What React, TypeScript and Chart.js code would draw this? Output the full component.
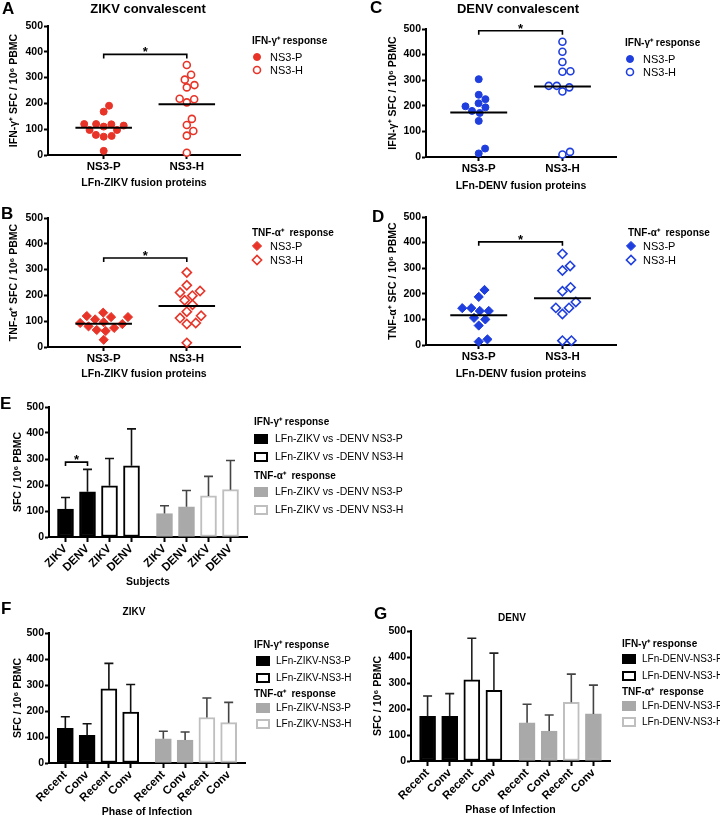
import React, { useEffect, useRef } from 'react';
import { Chart, registerables } from 'chart.js';

Chart.register(...registerables);

const FONT = '"Liberation Sans", Arial, Helvetica, sans-serif';
const RED = 'rgb(232, 52, 40)';
const BLUE = 'rgb(30, 62, 222)';
const BLACK = '#000000';
const WHITE = '#ffffff';
const GREY = '#a9a9a9';
const LIGHT = '#bfbfbf';

// ---------- tick labels and categories ----------
const sfcTicks = [0, 100, 200, 300, 400, 500];
const fusionCategories = ['NS3-P', 'NS3-H'];
const subjectCategories = ['ZIKV', 'DENV'];
const phaseCategories = ['Recent', 'Conv'];

// ---------- A: ZIKV convalescent, IFN-γ ----------
const zikvIfnP = [191, 168, 119, 120, 97, 110, 114, 120, 97, 74, 71, 78, 16];
const zikvIfnH = [292, 311, 349, 262, 271, 216, 204, 218, 140, 116, 93, 75, 9];
const zikvIfnMeans = [106, 197];
const zikvIfnSigAt = 390;

// ---------- B: ZIKV convalescent, TNF-α ----------
const zikvTnfP = [93, 133, 89, 116, 74, 107, 28, 66, 62, 116, 80, 120, 96];
const zikvTnfH = [289, 239, 217, 199, 211, 181, 164, 121, 137, 112, 93, 89, 16];
const zikvTnfMeans = [90, 159];
const zikvTnfSigAt = 345;

// ---------- C: DENV convalescent, IFN-γ ----------
const denvIfnP = [194, 226, 243, 304, 210, 198, 180, 172, 141, 33, 14];
const denvIfnH = [450, 411, 371, 333, 335, 278, 272, 256, 278, 10, 20];
const denvIfnMeans = [174, 275];
const denvIfnSigAt = 493;

// ---------- D: DENV convalescent, TNF-α ----------
const denvTnfP = [215, 188, 144, 133, 133, 144, 100, 106, 76, 22, 13];
const denvTnfH = [356, 291, 309, 225, 210, 168, 145, 145, 121, 17, 17];
const denvTnfMeans = [116, 183];
const denvTnfSigAt = 403;

// ---------- E: subjects (ZIKV, DENV) ----------
const subjIfnP = [107, 174];
const subjIfnPSd = [45, 86];
const subjIfnH = [197, 274];
const subjIfnHSd = [105, 142];
const subjTnfP = [90, 116];
const subjTnfPSd = [30, 63];
const subjTnfH = [158, 182];
const subjTnfHSd = [75, 112];
const subjSigAt = 288;

// ---------- F: ZIKV by phase (Recent, Conv) ----------
const zikvPhaseIfnP = [133, 106];
const zikvPhaseIfnPSd = [45, 45];
const zikvPhaseIfnH = [285, 196];
const zikvPhaseIfnHSd = [98, 106];
const zikvPhaseTnfP = [93, 88];
const zikvPhaseTnfPSd = [29, 31];
const zikvPhaseTnfH = [175, 155];
const zikvPhaseTnfHSd = [75, 78];

// ---------- G: DENV by phase (Recent, Conv) ----------
const denvPhaseIfnP = [172, 172];
const denvPhaseIfnPSd = [78, 87];
const denvPhaseIfnH = [312, 272];
const denvPhaseIfnHSd = [160, 143];
const denvPhaseTnfP = [147, 115];
const denvPhaseTnfPSd = [71, 62];
const denvPhaseTnfH = [226, 181];
const denvPhaseTnfHSd = [108, 111];

// ================= helpers =================
type Box = { left: number; top: number; width: number; height: number };
type Area = { left: number; top: number; right: number; bottom: number };
type TextAt = { text: string; x: number; y: number };
type LegendEntry = { header?: string; ds?: number; y: number };
type LegendSpec = { headerX: number; markerX: number; textX: number; itemFont: number; entries: LegendEntry[] };

const AX_FONT = 10.5;
const TICK_FONT_Y = 10.5;
const TICK_FONT_X = 11.5;

function swarm(values: number[], pxPerY: number, pxPerX: number, d: number): number[] {
  const order = values.map((_, i) => i).sort((a, b) => values[a] - values[b]);
  const placed: { x: number; y: number }[] = [];
  const out = new Array(values.length).fill(0);
  for (const i of order) {
    const y = values[i] * pxPerY;
    const cands = [0];
    for (const p of placed) {
      const dy = Math.abs(p.y - y);
      if (dy < d) {
        const dx = Math.sqrt(d * d - dy * dy);
        cands.push(p.x + dx, p.x - dx);
      }
    }
    cands.sort((a, b) => Math.abs(a) - Math.abs(b));
    let best = 0;
    for (const c of cands) {
      if (placed.every((p) => (p.x - c) ** 2 + (p.y - y) ** 2 >= d * d - 0.01)) {
        best = c;
        break;
      }
    }
    placed.push({ x: best, y });
    out[i] = best / pxPerX;
  }
  return out;
}

function drawMarker(ctx: CanvasRenderingContext2D, style: string, x: number, y: number, r: number, fill: string, stroke: string, lw: number) {
  ctx.beginPath();
  if (style === 'rectRot') {
    ctx.moveTo(x - r, y);
    ctx.lineTo(x, y - r);
    ctx.lineTo(x + r, y);
    ctx.lineTo(x, y + r);
    ctx.closePath();
  } else {
    ctx.arc(x, y, r, 0, Math.PI * 2);
  }
  ctx.fillStyle = fill;
  ctx.fill();
  ctx.lineWidth = lw;
  ctx.strokeStyle = stroke;
  ctx.stroke();
}

type DecorSpec = {
  box: Box;
  letter: TextAt;
  title?: TextAt & { size: number };
  legend: LegendSpec;
  kind: 'point' | 'bar';
  means?: number[];
  meanHalf?: number;
  bracket?: { x1: number; x2: number; value: number };
  errors?: { sd: (number | null)[]; color: string }[];
  swatches?: { fill: string; border: string }[];
};

function makeDecor(spec: DecorSpec) {
  const ox = spec.box.left;
  const oy = spec.box.top;
  return {
    id: 'decor',
    afterDatasetsDraw(chart: any) {
      const ctx: CanvasRenderingContext2D = chart.ctx;
      const xs = chart.scales.x;
      const ys = chart.scales.y;
      ctx.save();
      if (spec.errors) {
        spec.errors.forEach((e, di) => {
          const meta = chart.getDatasetMeta(di);
          const data = chart.data.datasets[di].data;
          meta.data.forEach((el: any, i: number) => {
            const v = data[i];
            const sd = e.sd[i];
            if (v == null || sd == null) return;
            const top = ys.getPixelForValue(v);
            const cap = ys.getPixelForValue(v + sd);
            ctx.strokeStyle = e.color;
            ctx.lineWidth = 1.6;
            ctx.beginPath();
            ctx.moveTo(el.x, top);
            ctx.lineTo(el.x, cap);
            ctx.moveTo(el.x - 4.5, cap);
            ctx.lineTo(el.x + 4.5, cap);
            ctx.stroke();
          });
        });
      }
      if (spec.means) {
        const half = spec.meanHalf || 0.34;
        spec.means.forEach((m, i) => {
          const y = ys.getPixelForValue(m);
          ctx.strokeStyle = '#000';
          ctx.lineWidth = 2;
          ctx.beginPath();
          ctx.moveTo(xs.getPixelForValue(i + 1 - half), y);
          ctx.lineTo(xs.getPixelForValue(i + 1 + half), y);
          ctx.stroke();
        });
      }
      if (spec.bracket) {
        const b = spec.bracket;
        const x1 = xs.getPixelForValue(b.x1);
        const x2 = xs.getPixelForValue(b.x2);
        const y = ys.getPixelForValue(b.value);
        ctx.strokeStyle = '#000';
        ctx.lineWidth = 1.6;
        ctx.beginPath();
        ctx.moveTo(x1, y + 4);
        ctx.lineTo(x1, y);
        ctx.lineTo(x2, y);
        ctx.lineTo(x2, y + 4);
        ctx.stroke();
        ctx.fillStyle = '#000';
        ctx.font = `bold 13px ${FONT}`;
        ctx.textAlign = 'center';
        ctx.textBaseline = 'alphabetic';
        ctx.fillText('*', (x1 + x2) / 2, y + 2);
      }
      ctx.restore();
    },
    afterDraw(chart: any) {
      const ctx: CanvasRenderingContext2D = chart.ctx;
      ctx.save();
      ctx.fillStyle = '#000';
      ctx.textBaseline = 'middle';
      ctx.textAlign = 'left';
      ctx.font = `bold 17px ${FONT}`;
      ctx.fillText(spec.letter.text, spec.letter.x - ox, spec.letter.y - oy);
      if (spec.title) {
        ctx.font = `bold ${spec.title.size}px ${FONT}`;
        ctx.textAlign = 'center';
        ctx.fillText(spec.title.text, spec.title.x - ox, spec.title.y - oy);
      }
      const lg = spec.legend;
      lg.entries.forEach((e) => {
        const y = e.y - oy;
        if (e.header) {
          ctx.font = `bold 10px ${FONT}`;
          ctx.textAlign = 'left';
          ctx.fillStyle = '#000';
          ctx.fillText(e.header, lg.headerX - ox, y);
          return;
        }
        const ds = chart.data.datasets[e.ds as number];
        if (spec.kind === 'point') {
          drawMarker(ctx, ds.pointStyle, lg.markerX - ox, y, ds.pointRadius, ds.backgroundColor, ds.borderColor, ds.borderWidth);
        } else {
          const sw = (spec.swatches as any)[e.ds as number];
          const mx = lg.markerX - ox;
          ctx.fillStyle = sw.fill;
          ctx.fillRect(mx, y - 5, 14, 10);
          ctx.strokeStyle = sw.border;
          ctx.lineWidth = 2;
          ctx.strokeRect(mx + 1, y - 4, 12, 8);
        }
        ctx.font = `${lg.itemFont}px ${FONT}`;
        ctx.fillStyle = '#000';
        ctx.textAlign = 'left';
        ctx.fillText(ds.label, lg.textX - ox, y + 0.5);
      });
      ctx.restore();
    },
  };
}

function yScale(title: string, yW: number, titleX: number) {
  return {
    type: 'linear',
    min: sfcTicks[0],
    max: sfcTicks[sfcTicks.length - 1],
    afterBuildTicks: (s: any) => {
      s.ticks = sfcTicks.map((v) => ({ value: v }));
    },
    afterFit: (s: any) => {
      s.width = yW;
    },
    ticks: { font: { family: FONT, size: TICK_FONT_Y, weight: 'bold' }, color: '#000', padding: 1 },
    grid: { drawOnChartArea: false, drawTicks: true, tickLength: 4, tickWidth: 2, tickColor: '#000', color: '#000' },
    border: { display: true, color: '#000', width: 2 },
    title: {
      display: true,
      text: title,
      color: '#000',
      font: { family: FONT, size: AX_FONT, weight: 'bold' },
      padding: { top: titleX - AX_FONT * 0.6, bottom: 0 },
    },
  };
}

function xTitle(text: string, canvasH: number, titleY: number) {
  return {
    display: true,
    text,
    color: '#000',
    font: { family: FONT, size: AX_FONT, weight: 'bold' },
    padding: { top: 0, bottom: Math.max(0, canvasH - AX_FONT * 0.6 - titleY) },
  };
}

function baseOptions(box: Box, area: Area) {
  return {
    responsive: false,
    animation: false,
    devicePixelRatio: 1,
    events: [],
    layout: {
      autoPadding: false,
      padding: { left: 0, top: area.top - box.top, right: box.left + box.width - area.right, bottom: 0 },
    },
    plugins: { legend: { display: false }, tooltip: { enabled: false }, title: { display: false } },
  };
}

// ================= scatter (A-D) =================
type ScatterSpec = {
  box: Box;
  area: Area;
  xMin: number;
  xMax: number;
  p: number[];
  h: number[];
  means: number[];
  sigAt: number;
  color: string;
  shape: 'circle' | 'rectRot';
  yTitle: string;
  yTitleX: number;
  xTitle: string;
  xTitleY: number;
  letter: TextAt;
  title?: TextAt & { size: number };
  legendHeader: string;
  legend: { headerX: number; markerX: number; textX: number; headerY: number; itemY: number[] };
};

function scatterConfig(s: ScatterSpec) {
  const plotW = s.area.right - s.area.left;
  const plotH = s.area.bottom - s.area.top;
  const pxX = plotW / (s.xMax - s.xMin);
  const pxY = plotH / (sfcTicks[sfcTicks.length - 1] - sfcTicks[0]);
  const r = s.shape === 'circle' ? 3.5 : 4.6;
  const makeSet = (vals: number[], idx: number, filled: boolean) => {
    const offs = swarm(vals, pxY, pxX, s.shape === 'circle' ? 8 : 9);
    return {
      label: fusionCategories[idx],
      data: vals.map((v, i) => ({ x: idx + 1 + offs[i], y: v })),
      pointStyle: s.shape,
      pointRadius: r,
      pointHoverRadius: r,
      backgroundColor: filled ? s.color : WHITE,
      borderColor: s.color,
      borderWidth: filled ? 1 : 1.6,
      clip: false,
    };
  };
  const xH = s.box.top + s.box.height - s.area.bottom;
  const opts: any = baseOptions(s.box, s.area);
  opts.scales = {
    x: {
      type: 'linear',
      min: s.xMin,
      max: s.xMax,
      afterBuildTicks: (sc: any) => {
        sc.ticks = fusionCategories.map((_, i) => ({ value: i + 1 }));
      },
      afterFit: (sc: any) => {
        sc.height = xH;
      },
      ticks: {
        callback: (_v: any, i: number) => fusionCategories[i],
        font: { family: FONT, size: TICK_FONT_X, weight: 'bold' },
        color: '#000',
        padding: 1,
        maxRotation: 0,
        minRotation: 0,
        autoSkip: false,
      },
      grid: { drawOnChartArea: false, drawTicks: true, tickLength: 4, tickWidth: 2, tickColor: '#000', color: '#000' },
      border: { display: true, color: '#000', width: 2 },
      title: xTitle(s.xTitle, s.box.height, s.xTitleY - s.box.top),
    },
    y: yScale(s.yTitle, s.area.left - s.box.left, s.yTitleX - s.box.left),
  };
  const entries: LegendEntry[] = [
    { header: s.legendHeader, y: s.legend.headerY },
    { ds: 0, y: s.legend.itemY[0] },
    { ds: 1, y: s.legend.itemY[1] },
  ];
  return {
    type: 'scatter',
    data: { datasets: [makeSet(s.p, 0, true), makeSet(s.h, 1, false)] },
    options: opts,
    plugins: [
      makeDecor({
        box: s.box,
        letter: s.letter,
        title: s.title,
        kind: 'point',
        legend: { headerX: s.legend.headerX, markerX: s.legend.markerX, textX: s.legend.textX, itemFont: 11, entries },
        means: s.means,
        meanHalf: 0.34,
        bracket: { x1: 1, x2: 2, value: s.sigAt },
      }),
    ],
  };
}

// ================= bars (E-G) =================
type BarSeries = { label: string; values: number[]; sd: number[]; fill: string[]; border: string[]; err: string };
type BarSpec = {
  box: Box;
  area: Area;
  categories: string[];
  series: BarSeries[];
  xTitle: string;
  xTitleY: number;
  yTitleX: number;
  letter: TextAt;
  title?: TextAt & { size: number };
  legend: LegendSpec;
  sigAt?: number;
};

const SLOT_COUNT = 18;
const slotOf = (k: number) => 1 + 2 * k + (k >= 4 ? 1 : 0);

function barConfig(b: BarSpec) {
  const labels: string[] = new Array(SLOT_COUNT).fill('');
  const errors: { sd: (number | null)[]; color: string }[] = [];
  const datasets = b.series.map((s, d) => {
    const data: (number | null)[] = new Array(SLOT_COUNT).fill(null);
    const sd: (number | null)[] = new Array(SLOT_COUNT).fill(null);
    const bg: string[] = new Array(SLOT_COUNT).fill(WHITE);
    const bc: string[] = new Array(SLOT_COUNT).fill(WHITE);
    s.values.forEach((v, j) => {
      const slot = slotOf(d * b.categories.length + j);
      data[slot] = v;
      sd[slot] = s.sd[j];
      labels[slot] = b.categories[j];
      bg[slot] = s.fill[j];
      bc[slot] = s.border[j];
    });
    errors.push({ sd, color: s.err });
    return {
      label: s.label,
      data,
      backgroundColor: bg,
      borderColor: bc,
      borderWidth: 2,
      borderSkipped: false,
      barThickness: 16,
      grouped: false,
    };
  });
  const xH = b.box.top + b.box.height - b.area.bottom;
  const opts: any = baseOptions(b.box, b.area);
  opts.scales = {
    x: {
      type: 'category',
      offset: true,
      afterFit: (sc: any) => {
        sc.height = xH;
      },
      ticks: {
        autoSkip: false,
        maxRotation: 45,
        minRotation: 45,
        font: { family: FONT, size: TICK_FONT_X, weight: 'bold' },
        color: '#000',
        padding: 0,
      },
      grid: {
        drawOnChartArea: false,
        offset: false,
        drawTicks: true,
        tickLength: 5,
        tickWidth: 2,
        color: '#000',
        tickColor: (c: any) => (labels[c.index] ? '#000' : 'rgba(0,0,0,0)'),
      },
      border: { display: true, color: '#000', width: 2 },
      title: xTitle(b.xTitle, b.box.height, b.xTitleY - b.box.top),
    },
    y: yScale('SFC / 10⁶ PBMC', b.area.left - b.box.left, b.yTitleX - b.box.left),
  };
  return {
    type: 'bar',
    data: { labels, datasets },
    options: opts,
    plugins: [
      makeDecor({
        box: b.box,
        letter: b.letter,
        title: b.title,
        kind: 'bar',
        legend: b.legend,
        errors,
        swatches: b.series.map((s) => ({ fill: s.fill[0], border: s.border[0] })),
        bracket: b.sigAt != null ? { x1: slotOf(0), x2: slotOf(1), value: b.sigAt } : undefined,
      }),
    ],
  };
}

// ================= panel specs =================
const IFN_HEAD = 'IFN-γ⁺ response';
const TNF_HEAD = 'TNF-α⁺  response';

const boxA: Box = { left: 0, top: 0, width: 360, height: 192 };
const boxB: Box = { left: 0, top: 180, width: 360, height: 200 };
const boxC: Box = { left: 360, top: 0, width: 360, height: 192 };
const boxD: Box = { left: 360, top: 180, width: 360, height: 200 };
const boxE: Box = { left: 0, top: 385, width: 440, height: 207 };
const boxF: Box = { left: 0, top: 590, width: 360, height: 228 };
const boxG: Box = { left: 360, top: 590, width: 360, height: 228 };

const panelA = () =>
  scatterConfig({
    box: boxA,
    area: { left: 48, top: 26, right: 240, bottom: 155 },
    xMin: 0.33,
    xMax: 2.64,
    p: zikvIfnP,
    h: zikvIfnH,
    means: zikvIfnMeans,
    sigAt: zikvIfnSigAt,
    color: RED,
    shape: 'circle',
    yTitle: 'IFN-γ⁺ SFC / 10⁶ PBMC',
    yTitleX: 14,
    xTitle: 'LFn-ZIKV fusion proteins',
    xTitleY: 183,
    letter: { text: 'A', x: 2, y: 9 },
    title: { text: 'ZIKV convalescent', x: 148, y: 9, size: 13 },
    legendHeader: IFN_HEAD,
    legend: { headerX: 252, markerX: 257, textX: 270, headerY: 41, itemY: [57, 70] },
  });

const panelB = () =>
  scatterConfig({
    box: boxB,
    area: { left: 48, top: 218, right: 240, bottom: 347 },
    xMin: 0.33,
    xMax: 2.64,
    p: zikvTnfP,
    h: zikvTnfH,
    means: zikvTnfMeans,
    sigAt: zikvTnfSigAt,
    color: RED,
    shape: 'rectRot',
    yTitle: 'TNF-α⁺ SFC / 10⁶ PBMC',
    yTitleX: 14,
    xTitle: 'LFn-ZIKV fusion proteins',
    xTitleY: 374,
    letter: { text: 'B', x: 1, y: 214 },
    legendHeader: TNF_HEAD,
    legend: { headerX: 252, markerX: 257, textX: 270, headerY: 233, itemY: [246, 260] },
  });

const panelC = () =>
  scatterConfig({
    box: boxC,
    area: { left: 426, top: 29, right: 616, bottom: 157 },
    xMin: 0.37,
    xMax: 2.64,
    p: denvIfnP,
    h: denvIfnH,
    means: denvIfnMeans,
    sigAt: denvIfnSigAt,
    color: BLUE,
    shape: 'circle',
    yTitle: 'IFN-γ⁺ SFC / 10⁶ PBMC',
    yTitleX: 393,
    xTitle: 'LFn-DENV fusion proteins',
    xTitleY: 186,
    letter: { text: 'C', x: 370, y: 8 },
    title: { text: 'DENV convalescent', x: 518, y: 9, size: 13 },
    legendHeader: IFN_HEAD,
    legend: { headerX: 625, markerX: 630, textX: 643, headerY: 43, itemY: [59, 72] },
  });

const panelD = () =>
  scatterConfig({
    box: boxD,
    area: { left: 426, top: 217, right: 616, bottom: 345 },
    xMin: 0.37,
    xMax: 2.64,
    p: denvTnfP,
    h: denvTnfH,
    means: denvTnfMeans,
    sigAt: denvTnfSigAt,
    color: BLUE,
    shape: 'rectRot',
    yTitle: 'TNF-α⁺ SFC / 10⁶ PBMC',
    yTitleX: 393,
    xTitle: 'LFn-DENV fusion proteins',
    xTitleY: 374,
    letter: { text: 'D', x: 372, y: 217 },
    legendHeader: TNF_HEAD,
    legend: { headerX: 628, markerX: 631, textX: 643, headerY: 233, itemY: [246, 260] },
  });

const panelE = () =>
  barConfig({
    box: boxE,
    area: { left: 49, top: 407, right: 247, bottom: 537 },
    categories: subjectCategories,
    series: [
      { label: 'LFn-ZIKV vs -DENV NS3-P', values: subjIfnP, sd: subjIfnPSd, fill: [BLACK, BLACK], border: [BLACK, BLACK], err: '#111' },
      { label: 'LFn-ZIKV vs -DENV NS3-H', values: subjIfnH, sd: subjIfnHSd, fill: [WHITE, WHITE], border: [BLACK, BLACK], err: '#111' },
      { label: 'LFn-ZIKV vs -DENV NS3-P', values: subjTnfP, sd: subjTnfPSd, fill: [GREY, GREY], border: [GREY, GREY], err: '#444' },
      { label: 'LFn-ZIKV vs -DENV NS3-H', values: subjTnfH, sd: subjTnfHSd, fill: [WHITE, WHITE], border: [LIGHT, LIGHT], err: '#444' },
    ],
    xTitle: 'Subjects',
    xTitleY: 582,
    yTitleX: 18,
    letter: { text: 'E', x: 0, y: 404 },
    legend: {
      headerX: 254,
      markerX: 254,
      textX: 275,
      itemFont: 10.5,
      entries: [
        { header: IFN_HEAD, y: 422 },
        { ds: 0, y: 439 },
        { ds: 1, y: 457 },
        { header: TNF_HEAD, y: 476 },
        { ds: 2, y: 492 },
        { ds: 3, y: 510 },
      ],
    },
    sigAt: subjSigAt,
  });

const panelF = () =>
  barConfig({
    box: boxF,
    area: { left: 49, top: 633, right: 245, bottom: 763 },
    categories: phaseCategories,
    series: [
      { label: 'LFn-ZIKV-NS3-P', values: zikvPhaseIfnP, sd: zikvPhaseIfnPSd, fill: [BLACK, BLACK], border: [BLACK, BLACK], err: '#111' },
      { label: 'LFn-ZIKV-NS3-H', values: zikvPhaseIfnH, sd: zikvPhaseIfnHSd, fill: [WHITE, WHITE], border: [BLACK, BLACK], err: '#111' },
      { label: 'LFn-ZIKV-NS3-P', values: zikvPhaseTnfP, sd: zikvPhaseTnfPSd, fill: [GREY, GREY], border: [GREY, GREY], err: '#444' },
      { label: 'LFn-ZIKV-NS3-H', values: zikvPhaseTnfH, sd: zikvPhaseTnfHSd, fill: [WHITE, WHITE], border: [LIGHT, LIGHT], err: '#444' },
    ],
    xTitle: 'Phase of Infection',
    xTitleY: 812,
    yTitleX: 18,
    letter: { text: 'F', x: 1, y: 609 },
    title: { text: 'ZIKV', x: 134, y: 612, size: 10 },
    legend: {
      headerX: 254,
      markerX: 256,
      textX: 276,
      itemFont: 10,
      entries: [
        { header: IFN_HEAD, y: 645 },
        { ds: 0, y: 661 },
        { ds: 1, y: 678 },
        { header: TNF_HEAD, y: 694 },
        { ds: 2, y: 708 },
        { ds: 3, y: 724 },
      ],
    },
  });

const panelG = () =>
  barConfig({
    box: boxG,
    area: { left: 411, top: 631, right: 610, bottom: 761 },
    categories: phaseCategories,
    series: [
      { label: 'LFn-DENV-NS3-P', values: denvPhaseIfnP, sd: denvPhaseIfnPSd, fill: [BLACK, BLACK], border: [BLACK, BLACK], err: '#222' },
      { label: 'LFn-DENV-NS3-H', values: denvPhaseIfnH, sd: denvPhaseIfnHSd, fill: [WHITE, WHITE], border: [BLACK, BLACK], err: '#222' },
      { label: 'LFn-DENV-NS3-P', values: denvPhaseTnfP, sd: denvPhaseTnfPSd, fill: [GREY, GREY], border: [GREY, GREY], err: '#444' },
      { label: 'LFn-DENV-NS3-H', values: denvPhaseTnfH, sd: denvPhaseTnfHSd, fill: [WHITE, GREY], border: [LIGHT, GREY], err: '#444' },
    ],
    xTitle: 'Phase of Infection',
    xTitleY: 810,
    yTitleX: 378,
    letter: { text: 'G', x: 374, y: 614 },
    title: { text: 'DENV', x: 512, y: 618, size: 10 },
    legend: {
      headerX: 622,
      markerX: 622,
      textX: 642,
      itemFont: 10,
      entries: [
        { header: IFN_HEAD, y: 644 },
        { ds: 0, y: 659 },
        { ds: 1, y: 676 },
        { header: TNF_HEAD, y: 692 },
        { ds: 2, y: 706 },
        { ds: 3, y: 722 },
      ],
    },
  });

// ================= components =================
function ChartPanel({ box, build }: { box: Box; build: () => any }) {
  const ref = useRef<HTMLCanvasElement>(null);
  useEffect(() => {
    const chart = new Chart(ref.current as HTMLCanvasElement, build() as any);
    return () => chart.destroy();
  }, []);
  return (
    <canvas
      ref={ref}
      width={box.width}
      height={box.height}
      style={{ position: 'absolute', left: box.left, top: box.top, width: box.width, height: box.height }}
    />
  );
}

const panels: { box: Box; build: () => any }[] = [
  { box: boxA, build: panelA },
  { box: boxC, build: panelC },
  { box: boxB, build: panelB },
  { box: boxD, build: panelD },
  { box: boxE, build: panelE },
  { box: boxF, build: panelF },
  { box: boxG, build: panelG },
];

export default function App() {
  return (
    <div style={{ position: 'absolute', left: 0, top: 0, width: 720, height: 818, background: '#fff', overflow: 'hidden' }}>
      {panels.map((p, i) => (
        <ChartPanel key={i} box={p.box} build={p.build} />
      ))}
    </div>
  );
}
